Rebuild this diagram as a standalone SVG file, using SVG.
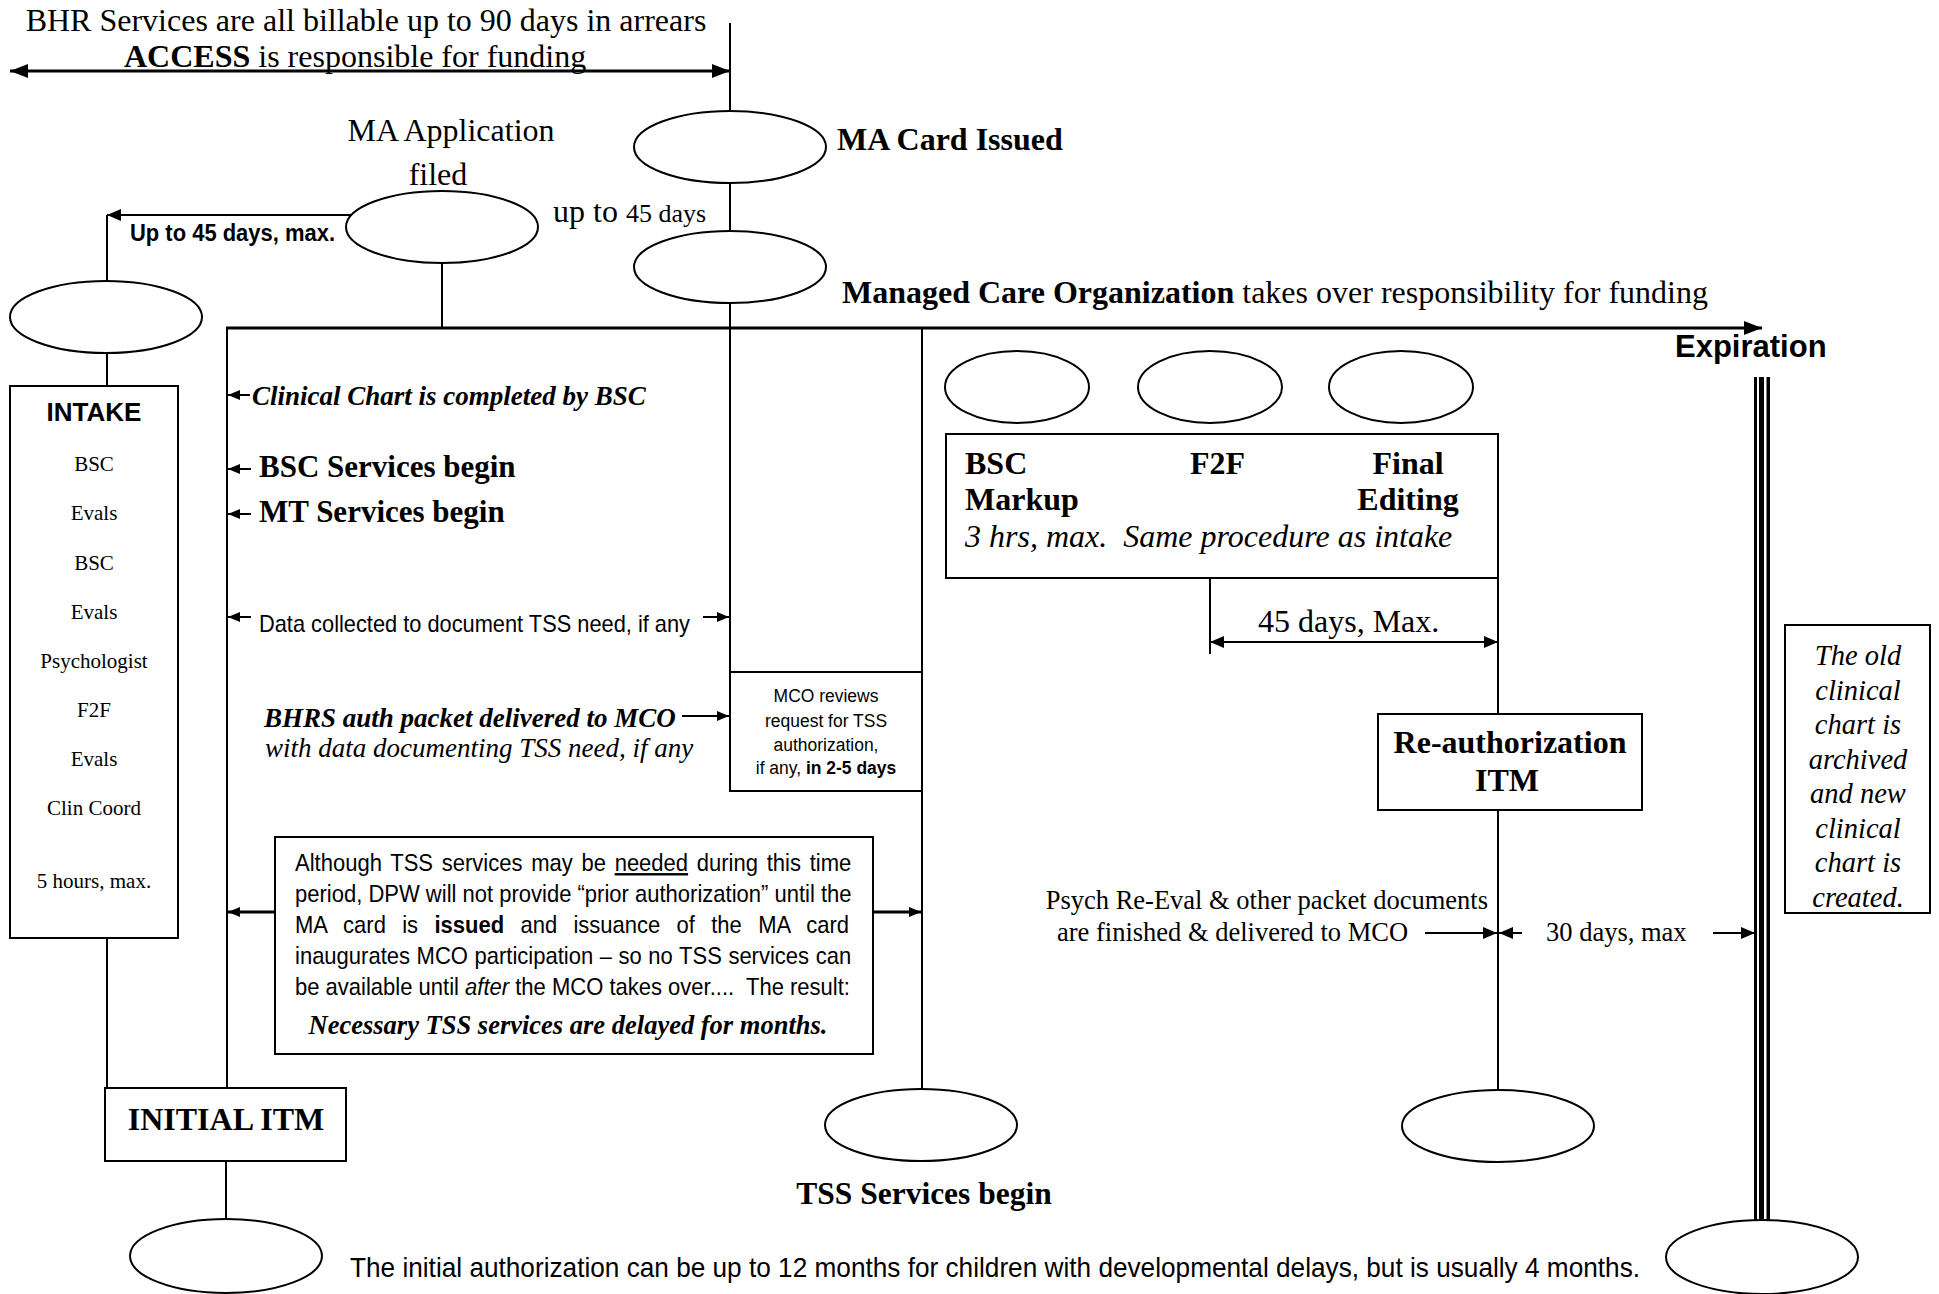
<svg xmlns="http://www.w3.org/2000/svg" width="1939" height="1294" viewBox="0 0 1939 1294">
<style>
.ln{stroke:#000;stroke-width:2;fill:none}
.tk{stroke:#000;stroke-width:3;fill:none}
.nd{fill:#fff;stroke:#000;stroke-width:2}
.tr{font-family:"Liberation Serif","Times New Roman",serif;fill:#000}
.ar{font-family:"Liberation Sans",Arial,sans-serif;fill:#000}
.b{font-weight:bold}
.i{font-style:italic}
.m{text-anchor:middle}
.e{text-anchor:end}
</style>
<defs>
<marker id="ah" viewBox="0 0 14 12" refX="14" refY="6" markerWidth="14" markerHeight="12" markerUnits="userSpaceOnUse" orient="auto-start-reverse"><path d="M0,0 L14,6 L0,12 z" fill="#000"/></marker>
<marker id="ahb" viewBox="0 0 18 14" refX="18" refY="7" markerWidth="18" markerHeight="14" markerUnits="userSpaceOnUse" orient="auto-start-reverse"><path d="M0,0 L18,7 L0,14 z" fill="#000"/></marker>
<marker id="ahs" viewBox="0 0 12 10" refX="12" refY="5" markerWidth="12" markerHeight="10" markerUnits="userSpaceOnUse" orient="auto-start-reverse"><path d="M0,0 L12,5 L0,10 z" fill="#000"/></marker>
</defs>
<rect width="1939" height="1294" fill="#fff"/>

<g id="connectors">
<line class="tk" x1="10" y1="71" x2="730" y2="71" marker-start="url(#ahb)" marker-end="url(#ahb)"/>
<line class="ln" x1="730" y1="23" x2="730" y2="672"/>
<line class="ln" x1="352" y1="215" x2="107" y2="215" marker-end="url(#ah)"/>
<line class="ln" x1="107" y1="215" x2="107" y2="282"/>
<line class="ln" x1="107" y1="352" x2="107" y2="387"/>
<line class="ln" x1="442" y1="262" x2="442" y2="328"/>
<line class="tk" x1="226" y1="328" x2="1762" y2="328" marker-end="url(#ahb)"/>
<line class="ln" x1="227" y1="328" x2="227" y2="1088"/>
<line class="ln" x1="922" y1="328" x2="922" y2="1090"/>
<line class="ln" x1="250" y1="395" x2="228" y2="395" marker-end="url(#ahs)"/>
<line class="ln" x1="251" y1="469" x2="228" y2="469" marker-end="url(#ahs)"/>
<line class="ln" x1="251" y1="514" x2="228" y2="514" marker-end="url(#ahs)"/>
<line class="ln" x1="251" y1="617" x2="228" y2="617" marker-end="url(#ahs)"/>
<line class="ln" x1="703" y1="617" x2="729" y2="617" marker-end="url(#ahs)"/>
<line class="ln" x1="682" y1="716" x2="729" y2="716" marker-end="url(#ahs)"/>
<line class="tk" x1="275" y1="912" x2="228" y2="912" marker-end="url(#ahs)"/>
<line class="tk" x1="873" y1="912" x2="921" y2="912" marker-end="url(#ahs)"/>
<line class="ln" x1="107" y1="938" x2="107" y2="1088"/>
<line class="ln" x1="226" y1="1161" x2="226" y2="1219"/>
<line class="ln" x1="1210" y1="578" x2="1210" y2="654"/>
<line class="ln" x1="1210" y1="642" x2="1498" y2="642" marker-start="url(#ah)" marker-end="url(#ah)"/>
<line class="ln" x1="1498" y1="578" x2="1498" y2="714"/>
<line class="ln" x1="1498" y1="810" x2="1498" y2="1091"/>
<line class="ln" x1="1425" y1="933" x2="1497" y2="933" marker-end="url(#ah)"/>
<line class="ln" x1="1522" y1="933" x2="1499" y2="933" marker-end="url(#ah)"/>
<line class="ln" x1="1713" y1="933" x2="1755" y2="933" marker-end="url(#ah)"/>
<rect x="1754" y="377" width="3" height="843" fill="#000"/>
<rect x="1759" y="377" width="5" height="843" fill="#000"/>
<rect x="1766.5" y="377" width="3.5" height="843" fill="#000"/>
</g>

<g id="top-labels">
<text class="tr m" x="366" y="31" font-size="32">BHR Services are all billable up to 90 days in arrears</text>
<text class="tr" x="124" y="67" font-size="32"><tspan class="b">ACCESS</tspan> is responsible for funding</text>
<text class="tr m" x="451" y="141" font-size="32">MA Application</text>
<text class="tr m" x="438" y="185" font-size="32">filed</text>
<text class="tr" x="553" y="222"><tspan font-size="32">up to </tspan><tspan font-size="26">45 days</tspan></text>
<text class="ar b" x="130" y="241" font-size="24" textLength="205" lengthAdjust="spacingAndGlyphs">Up to 45 days, max.</text>
<text class="tr b" x="837" y="150" font-size="32">MA Card Issued</text>
<text class="tr" x="842" y="303" font-size="32"><tspan class="b">Managed Care Organization</tspan> takes over responsibility for funding</text>
<text class="ar b" x="1675" y="357" font-size="31">Expiration</text>
</g>

<g id="node-ma-app"><ellipse class="nd" cx="442" cy="227" rx="96" ry="36"/></g>
<g id="node-ma-card"><ellipse class="nd" cx="730" cy="147" rx="96" ry="36"/></g>
<g id="node-mco-start"><ellipse class="nd" cx="730" cy="267" rx="96" ry="36"/></g>
<g id="node-start"><ellipse class="nd" cx="106" cy="317" rx="96" ry="36"/></g>
<g id="node-bsc"><ellipse class="nd" cx="1017" cy="387" rx="72" ry="36"/></g>
<g id="node-f2f"><ellipse class="nd" cx="1210" cy="387" rx="72" ry="36"/></g>
<g id="node-final"><ellipse class="nd" cx="1401" cy="387" rx="72" ry="36"/></g>
<g id="node-tss"><ellipse class="nd" cx="921" cy="1125" rx="96" ry="36"/></g>
<g id="node-reauth-end"><ellipse class="nd" cx="1498" cy="1126" rx="96" ry="36"/></g>
<g id="node-init-end"><ellipse class="nd" cx="226" cy="1256" rx="96" ry="37"/></g>
<g id="node-exp-end"><ellipse class="nd" cx="1762" cy="1257" rx="96" ry="37"/></g>

<g id="node-intake">
<rect class="nd" x="10" y="386" width="168" height="552"/>
<text class="ar b m" x="94" y="421" font-size="26">INTAKE</text>
<g class="tr m" font-size="21">
<text x="94" y="471">BSC</text>
<text x="94" y="520">Evals</text>
<text x="94" y="570">BSC</text>
<text x="94" y="619">Evals</text>
<text x="94" y="668">Psychologist</text>
<text x="94" y="717">F2F</text>
<text x="94" y="766">Evals</text>
<text x="94" y="815">Clin Coord</text>
<text x="94" y="888">5 hours, max.</text>
</g>
</g>

<g id="left-labels">
<text class="tr b i" x="252" y="405" font-size="27">Clinical Chart is completed by BSC</text>
<text class="tr b" x="259" y="477" font-size="31">BSC Services begin</text>
<text class="tr b" x="259" y="522" font-size="31">MT Services begin</text>
<text class="ar" x="259" y="632" font-size="24" textLength="431" lengthAdjust="spacingAndGlyphs">Data collected to document TSS need, if any</text>
<text class="tr b i" x="264" y="727" font-size="27">BHRS auth packet delivered to MCO</text>
<text class="tr i" x="265" y="757" font-size="27">with data documenting TSS need, if any</text>
</g>

<g id="node-mco-review">
<rect class="nd" x="730" y="672" width="192" height="119"/>
<g class="ar m" font-size="19" transform="translate(826,0) scale(0.92,1)">
<text x="0" y="702">MCO reviews</text>
<text x="0" y="727">request for TSS</text>
<text x="0" y="751">authorization,</text>
<text x="0" y="774">if any, <tspan class="b">in 2-5 days</tspan></text>
</g>
</g>

<g id="node-delay-note">
<rect class="nd" x="275" y="837" width="598" height="217"/>
<g class="ar" font-size="24" transform="translate(295,0) scale(0.9176,1)">
<text x="0" y="871" word-spacing="2.84">Although TSS services may be <tspan text-decoration="underline">needed</tspan> during this time</text>
<text x="0" y="902">period, DPW will not provide “prior authorization” until the</text>
<text x="0" y="933" word-spacing="11.1">MA card is <tspan class="b">issued</tspan> and issuance of the MA card</text>
<text x="0" y="964" word-spacing="0.5">inaugurates MCO participation – so no TSS services can</text>
<text x="0" y="995" xml:space="preserve">be available until <tspan class="i">after</tspan> the MCO takes over....  The result:</text>
</g>
<text class="tr b i m" x="568" y="1034" font-size="26.5">Necessary TSS services are delayed for months.</text>
</g>

<g id="node-initial-itm">
<rect class="nd" x="105" y="1088" width="241" height="73"/>
<text class="tr b m" x="226" y="1130" font-size="32">INITIAL ITM</text>
</g>

<text class="tr b m" x="924" y="1204" font-size="31.5">TSS Services begin</text>
<text class="ar" x="350" y="1277" font-size="28" textLength="1290" lengthAdjust="spacingAndGlyphs">The initial authorization can be up to 12 months for children with developmental delays, but is usually 4 months.</text>

<g id="node-reeval">
<rect class="nd" x="946" y="434" width="552" height="144"/>
<g class="tr b" font-size="32">
<text x="965" y="474">BSC</text>
<text x="965" y="510">Markup</text>
<text x="1190" y="474">F2F</text>
<text class="m" x="1408" y="474">Final</text>
<text class="m" x="1408" y="510">Editing</text>
</g>
<text class="tr i" x="965" y="547" font-size="32" xml:space="preserve">3 hrs, max.  Same procedure as intake</text>
</g>

<text class="tr" x="1258" y="632" font-size="32">45 days, Max.</text>

<g id="node-reauth">
<rect class="nd" x="1378" y="714" width="264" height="96"/>
<text class="tr b m" x="1510" y="753" font-size="32">Re-authorization</text>
<text class="tr b m" x="1507" y="791" font-size="32">ITM</text>
</g>

<g id="right-labels">
<text class="tr e" x="1488" y="909" font-size="26.5">Psych Re-Eval &amp; other packet documents</text>
<text class="tr" x="1057" y="941" font-size="26.5">are finished &amp; delivered to MCO</text>
<text class="tr" x="1546" y="941" font-size="26.5">30 days, max</text>
</g>

<g id="node-archive">
<rect class="nd" x="1785" y="625" width="145" height="288"/>
<g class="tr i m" font-size="28.5">
<text x="1858" y="665">The old</text>
<text x="1858" y="699.5">clinical</text>
<text x="1858" y="734">chart is</text>
<text x="1858" y="768.5">archived</text>
<text x="1858" y="803">and new</text>
<text x="1858" y="837.5">clinical</text>
<text x="1858" y="872">chart is</text>
<text x="1858" y="906.5">created.</text>
</g>
</g>
</svg>
